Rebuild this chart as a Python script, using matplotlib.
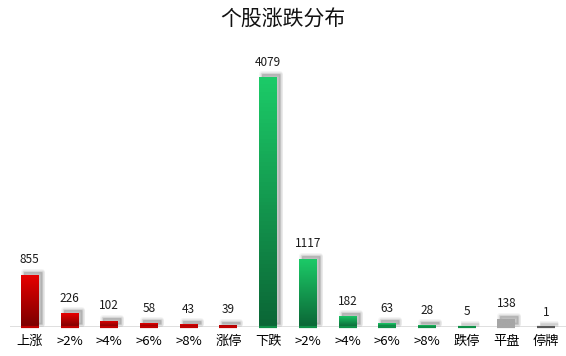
import matplotlib
matplotlib.use("Agg")
import matplotlib.pyplot as plt
import matplotlib.transforms as mtransforms
from matplotlib.patches import Rectangle
import numpy as np
from matplotlib.colors import LinearSegmentedColormap

plt.rcParams['font.family'] = ['Noto Sans CJK SC', 'DejaVu Sans']

categories = ['上涨', '>2%', '>4%', '>6%', '>8%', '涨停', '下跌', '>2%', '>4%', '>6%', '>8%', '跌停', '平盘', '停牌']
values = [855, 226, 102, 58, 43, 39, 4079, 1117, 182, 63, 28, 5, 138, 1]
groups = ['up'] * 6 + ['down'] * 6 + ['flat', 'halt']
title = '个股涨跌分布'

grad = {
    'up': ('#7a0000', '#e80000'),
    'down': ('#0b6636', '#1ccb68'),
    'flat': ('#a6a6a6', '#a6a6a6'),
    'halt': ('#595959', '#595959'),
}
base_col = {'up': '#c00000', 'down': '#109048', 'flat': '#a6a6a6', 'halt': '#595959'}

fig = plt.figure(figsize=(5.66, 3.56), dpi=100)
W, H = 566, 356
ax_left, ax_right = 10, 566
ax_bottom_px, ax_top_px = 327, 45
ax = fig.add_axes([ax_left / W, 1 - ax_bottom_px / H, (ax_right - ax_left) / W, (ax_bottom_px - ax_top_px) / H])
ax.set_xlim(-0.5, len(values) - 0.5)
ax.set_ylim(0, 4600)
for s in ax.spines.values():
    s.set_visible(False)
ax.tick_params(length=0)
ax.set_yticks([])
ax.set_xticks(range(len(values)))
ax.set_xticklabels(categories, fontsize=9.5)
for t in ax.get_xticklabels():
    t.set_y(-0.012)
ax.axhline(0, color='#d9d9d9', lw=1.2, zorder=0.5)

bw = 0.45
for i, (v, g) in enumerate(zip(values, groups)):
    x0 = i - bw / 2
    # soft blurred shadow
    off = mtransforms.offset_copy(ax.transData, fig=fig, x=3, y=3, units='dots')
    for k in range(5):
        sh = Rectangle((x0, 0), bw, v, transform=off, facecolor='#666666', alpha=0.07,
                       edgecolor='#666666', lw=0.6 + k * 0.9, joinstyle='round', zorder=1)
        ax.add_patch(sh)
    rect = Rectangle((x0, 0), bw, v, facecolor='none', edgecolor='none', zorder=3)
    ax.add_patch(rect)
    cmap = LinearSegmentedColormap.from_list('g', list(grad[g]))
    img = ax.imshow(np.linspace(0, 1, 64).reshape(-1, 1), cmap=cmap, origin='lower',
                    extent=(x0, x0 + bw, 0, max(v, 1)), aspect='auto', zorder=3)
    img.set_clip_path(rect)
    # thin line at the bar foot so tiny values remain visible
    ax.plot([x0, x0 + bw], [0, 0], color=base_col[g], lw=1.6, solid_capstyle='butt',
            clip_on=False, zorder=4)
    ax.annotate(f'{v}', (i, v), xytext=(0, 6), textcoords='offset points',
                ha='center', va='bottom', fontsize=8.5, color='#1a1a1a')

ax.set_aspect('auto')
ax.set_xlim(-0.5, len(values) - 0.5)
ax.set_ylim(0, 4600)

fig.text(0.5, 1 - 20 / H, title, ha='center', va='center', fontsize=15, color='#111111')

fig.savefig('out.png', dpi=100)
